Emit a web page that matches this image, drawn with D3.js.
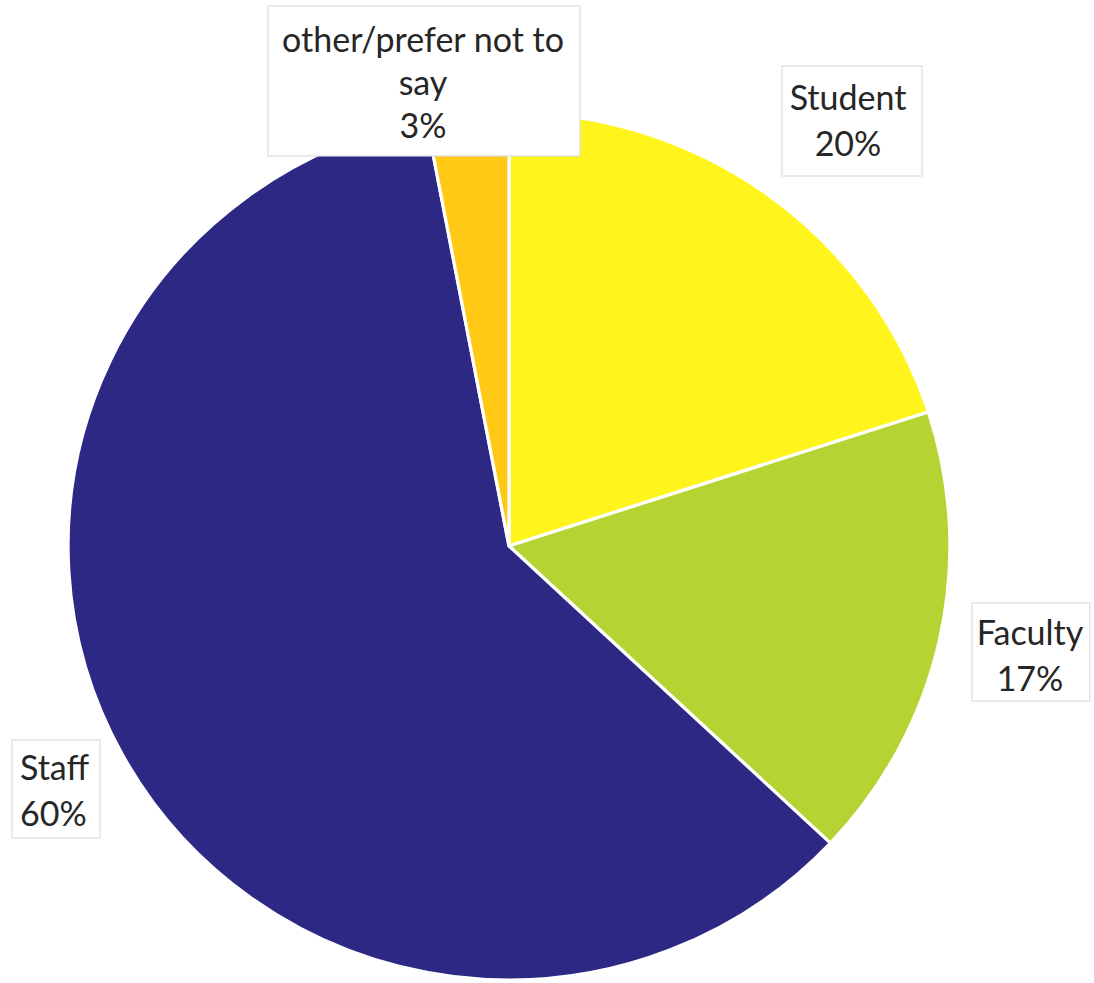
<!DOCTYPE html>
<html>
<head>
<meta charset="utf-8">
<script src="https://cdn.jsdelivr.net/npm/d3@7"></script>
<style>
  html, body { margin: 0; padding: 0; background: #fff; }
  svg { display: block; }
</style>
</head>
<body>
<svg id="chart" width="1094" height="983"></svg>
<script>
const categories = ["Student", "Faculty", "Staff", "other/prefer not to say"];
const values = [20, 17, 60, 3];
const percentLabels = ["20%", "17%", "60%", "3%"];
const colors = ["#FFF51C", "#B6D334", "#2E2885", "#FFC915"];

const svg = d3.select("#chart");
const cx = 509, cy = 546, r = 437;

const pie = d3.pie().sort(null).value(d => d.value);
const arc = d3.arc().innerRadius(0).outerRadius(r);
const data = categories.map((c, i) => ({ cat: c, value: values[i], pct: percentLabels[i], color: colors[i] }));
const arcs = pie(data);

const g = svg.append("g").attr("transform", `translate(${cx},${cy}) scale(1.009,0.993)`);
g.selectAll("path").data(arcs).join("path")
  .attr("d", arc)
  .attr("fill", d => d.data.color)
  .attr("stroke", "#fff")
  .attr("stroke-width", 3.2)
  .attr("stroke-linejoin", "round");

// label layout (box + text lines)
const labelLayout = [
  { lines: ["Student", "20%"], x: 848, y: 110, anchor: "middle", box: [782, 66, 140, 110] },
  { lines: ["Faculty", "17%"], x: 1030, y: 645, anchor: "middle", box: [972, 603, 118, 98] },
  { lines: ["Staff", "60%"], x: 20, y: 780, anchor: "start", box: [12, 740, 88, 98] },
  { lines: ["other/prefer not to", "say", "3%"], x: 423, y: 52, anchor: "middle", box: [268, 6, 312, 150] }
];

const lg = svg.append("g");
labelLayout.forEach((L, i) => {
  lg.append("rect")
    .attr("x", L.box[0]).attr("y", L.box[1])
    .attr("width", L.box[2]).attr("height", L.box[3])
    .attr("fill", "#fff")
    .attr("stroke", "#dcdcdc")
    .attr("stroke-width", 1.2);
  const t = lg.append("text")
    .attr("x", L.x).attr("y", L.y)
    .attr("text-anchor", L.anchor)
    .attr("font-family", "Lato, 'Open Sans', sans-serif")
    .attr("font-size", 34)
    .attr("fill", "#262626");
  L.lines.forEach((ln, j) => {
    t.append("tspan").attr("x", L.x).attr("dy", j === 0 ? 0 : (i === 3 ? 43 : 46)).text(ln);
  });
});
</script>
</body>
</html>
